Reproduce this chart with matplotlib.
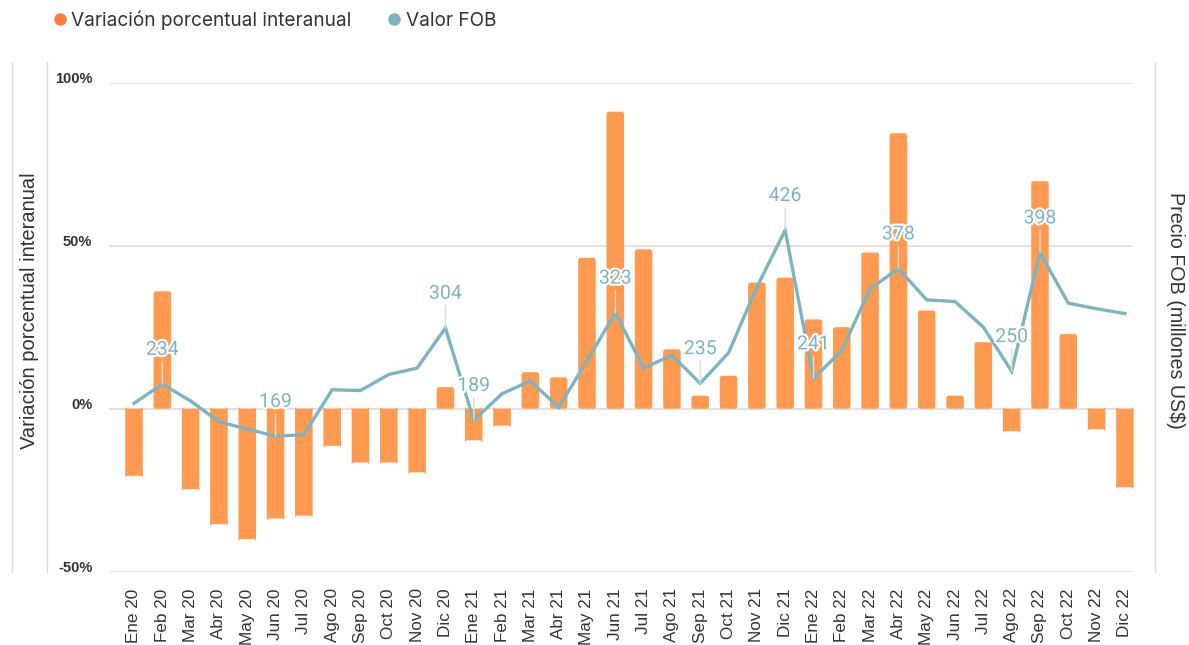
import matplotlib
matplotlib.use("Agg")
import matplotlib.pyplot as plt
from matplotlib.lines import Line2D
from matplotlib.patches import FancyBboxPatch
import matplotlib.patheffects as pe

plt.rcParams['font.family'] = ['Liberation Sans', 'DejaVu Sans']

months = ["Ene 20", "Feb 20", "Mar 20", "Abr 20", "May 20", "Jun 20", "Jul 20", "Ago 20",
          "Sep 20", "Oct 20", "Nov 20", "Dic 20", "Ene 21", "Feb 21", "Mar 21", "Abr 21",
          "May 21", "Jun 21", "Jul 21", "Ago 21", "Sep 21", "Oct 21", "Nov 21", "Dic 21",
          "Ene 22", "Feb 22", "Mar 22", "Abr 22", "May 22", "Jun 22", "Jul 22", "Ago 22",
          "Sep 22", "Oct 22", "Nov 22", "Dic 22"]

variacion = [-20.6, 36.0, -24.7, -35.4, -40.0, -33.7, -32.8, -11.4,
             -16.5, -16.5, -19.5, 6.6, -9.7, -5.2, 11.2, 9.6,
             46.3, 91.1, 48.9, 18.2, 4.0, 10.1, 38.7, 40.2,
             27.4, 25.0, 47.9, 84.5, 30.1, 4.0, 20.4, -6.9,
             69.8, 22.9, -6.3, -24.1]

valor_fob = [210, 234, 213, 187, 178, 169, 171, 227,
             226, 246, 254, 304, 189, 222, 238, 205,
             263, 323, 254, 270, 235, 273, 355, 426,
             241, 276, 353, 378, 339, 337, 305, 250,
             398, 335, 328, 322]

labeled = ["Feb 20", "Jun 20", "Dic 20", "Ene 21", "Jun 21", "Sep 21",
           "Dic 21", "Ene 22", "Abr 22", "Ago 22", "Sep 22"]

left_ticks = [-50, 0, 50, 100]
left_ticklabels = ["-50%", "0%", "50%", "100%"]

BAR = "#FF9A50"
LINE = "#7DB4C2"
GRID = "#DCDCDC"
TXT = "#333333"

W, H = 1189, 645
fig = plt.figure(figsize=(W / 100, H / 100), dpi=100)
x0, x1, yt, yb = 109, 1132, 82.7, 571.7
ax = fig.add_axes([x0 / W, 1 - yb / H, (x1 - x0) / W, (yb - yt) / H])

x = list(range(len(months)))
bars = ax.bar(x, variacion, width=0.62, color=BAR, zorder=2)
# round the bar corners slightly
xpx = (x1 - x0) / (35.25 + 0.883)
ypx = (yb - yt) / 150.0
for b in bars:
    bx, by = b.get_x(), b.get_y()
    bw, bh = b.get_width(), b.get_height()
    b.set_visible(False)
    r = 2.5 / xpx
    p = FancyBboxPatch((bx, by), bw, bh,
                       boxstyle=f"round,pad=0,rounding_size={r}",
                       mutation_aspect=xpx / ypx, facecolor=BAR, edgecolor="none",
                       zorder=2, clip_on=False)
    ax.add_patch(p)

ax.set_xlim(-0.883, 35.25)
ax.set_ylim(-50, 100)
ax.set_yticks(left_ticks)
ax.set_yticklabels(left_ticklabels, fontsize=10.5, fontweight='bold', color=TXT)
ax.set_xticks(x)
ax.set_xticklabels(months, rotation=90, fontsize=12.3, color=TXT)
ax.tick_params(axis='x', length=0, pad=12)
ax.tick_params(axis='y', length=0, pad=12)
for t in ax.get_yticklabels():
    t.set_verticalalignment('baseline')
ax.grid(axis='y', color=GRID, linewidth=1.2, zorder=0)
ax.set_axisbelow(True)
for s in ax.spines.values():
    s.set_visible(False)

ax2 = ax.twinx()
ax2.set_ylim(0, 610)
ax2.set_xlim(-0.883, 35.25)
ax2.set_yticks([])
for s in ax2.spines.values():
    s.set_visible(False)
ax2.plot(x, valor_fob, color=LINE, linewidth=2.4, zorder=3, solid_joinstyle='miter')

for name in labeled:
    i = months.index(name)
    ax2.annotate(str(valor_fob[i]), xy=(i, valor_fob[i]), xytext=(0, 21),
                 textcoords='offset points', ha='center', va='baseline',
                 fontsize=14, color=LINE, family=['Roboto', 'DejaVu Sans'],
                 path_effects=[pe.withStroke(linewidth=3, foreground='white')],
                 arrowprops=dict(arrowstyle='-', color=GRID, lw=1, shrinkA=0, shrinkB=0),
                 zorder=5)

fig.text(30 / W, 1 - 311 / H, "Variación porcentual interanual", rotation=90,
         ha='center', va='center', fontsize=14.5, color=TXT)
fig.text(1175 / W, 1 - 310 / H, "Precio FOB (millones US$)", rotation=-90,
         ha='center', va='center', fontsize=14.1, color=TXT)

for xp in (12, 47, 1155):
    fig.add_artist(Line2D([xp / W, xp / W], [1 - 62 / H, 1 - 572 / H],
                          transform=fig.transFigure, color=GRID, linewidth=1))

handles = [Line2D([], [], marker='o', linestyle='none', markersize=8, color="#FF7F3A"),
           Line2D([], [], marker='o', linestyle='none', markersize=8, color=LINE)]
fig.legend(handles, ["Variación porcentual interanual", "Valor FOB"],
           loc='center left', bbox_to_anchor=(33 / W, 1 - 20 / H), ncol=2,
           frameon=False, handletextpad=0.1, columnspacing=1.75,
           handlelength=1.0, labelcolor=TXT,
           prop={'family': ['Inter', 'DejaVu Sans'], 'size': 13.7})

fig.savefig("out.png", dpi=100)
